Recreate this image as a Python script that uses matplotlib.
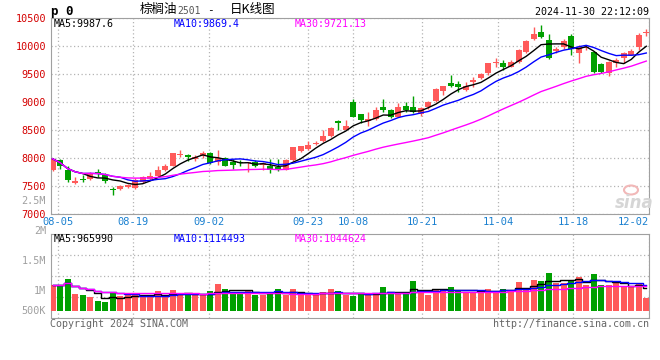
import numpy as np
import pandas as pd
import matplotlib
matplotlib.use('Agg')
import matplotlib.pyplot as plt

# 棕榈油2501 日K数据 (08-02 起, 共80根)
opens = [7778, 7956, 7778, 7546, 7630, 7625, 7755, 7696, 7446, 7452,
         7482, 7464, 7571, 7625, 7671, 7790, 7862, 8052, 8058, 7986,
         8027, 8095, 7921, 8000, 7928, 7928, 7912, 7921, 7880, 7862,
         7838, 7790, 7956, 8117, 8165, 8241, 8295, 8384, 8651, 8503,
         9007, 8783, 8664, 8699, 8901, 8860, 8740, 8936, 8901, 8790,
         8901, 9025, 9200, 9346, 9318, 9216, 9364, 9424, 9513, 9691,
         9703, 9631, 9720, 9898, 10125, 10255, 10107, 9911, 9977, 10184,
         9870, 9959, 9898, 9673, 9513, 9691, 9781, 9840, 9977, 10226]
highs = [7999, 7981, 7862, 7660, 7689, 7749, 7803, 7732, 7475, 7523,
         7540, 7642, 7670, 7742, 7850, 7897, 8095, 8135, 8075, 8058,
         8117, 8100, 8147, 8017, 7986, 7969, 7930, 7969, 7921, 7981,
         7981, 7975, 8200, 8220, 8307, 8300, 8503, 8560, 8681, 8669,
         9050, 8788, 8829, 8908, 9055, 8880, 8990, 9007, 9112, 8901,
         9015, 9246, 9293, 9483, 9382, 9364, 9442, 9510, 9703, 9781,
         9750, 9740, 9941, 10107, 10340, 10370, 10214, 9977, 10119, 10209,
         10018, 10018, 9917, 9690, 9738, 9781, 9887, 9950, 10237, 10310]
lows = [7760, 7800, 7575, 7535, 7564, 7600, 7660, 7553, 7340, 7434,
        7470, 7446, 7550, 7612, 7660, 7760, 7855, 8017, 7938, 7938,
        8000, 7890, 7880, 7850, 7803, 7850, 7750, 7840, 7778, 7732,
        7770, 7780, 7945, 8100, 8147, 8230, 8277, 8375, 8491, 8491,
        8729, 8622, 8562, 8681, 8818, 8710, 8729, 8829, 8800, 8753,
        8880, 9007, 9127, 9264, 9186, 9198, 9275, 9410, 9483, 9620,
        9572, 9620, 9703, 9881, 10107, 10140, 9763, 9870, 9941, 9840,
        9703, 9930, 9513, 9520, 9465, 9631, 9691, 9830, 9929, 10178]
closes = [7986, 7849, 7600, 7582, 7600, 7732, 7707, 7582, 7421, 7505,
          7523, 7600, 7653, 7671, 7790, 7850, 8088, 8075, 8010, 8017,
          8088, 7905, 8000, 7862, 7880, 7912, 7925, 7862, 7910, 7778,
          7778, 7969, 8188, 8206, 8236, 8270, 8396, 8533, 8622, 8574,
          8740, 8681, 8699, 8860, 8854, 8723, 8918, 8860, 8818, 8885,
          9007, 9234, 9287, 9293, 9275, 9287, 9394, 9496, 9691, 9703,
          9620, 9720, 9929, 10089, 10214, 10155, 9781, 9941, 10089, 9941,
          9988, 9977, 9542, 9542, 9715, 9750, 9870, 9917, 10196, 10237]
volumes = [1090000, 1090000, 1340000, 710000, 660000, 600000, 430000, 380000, 740000, 620000,
           660000, 740000, 660000, 570000, 830000, 600000, 880000, 660000, 710000, 660000,
           660000, 850000, 1130000, 920000, 740000, 740000, 850000, 660000, 660000, 800000,
           920000, 660000, 920000, 660000, 660000, 660000, 790000, 910000, 830000, 660000,
           630000, 690000, 740000, 740000, 990000, 740000, 740000, 790000, 1260000, 880000,
           660000, 910000, 880000, 990000, 880000, 800000, 800000, 800000, 910000, 850000,
           920000, 880000, 1230000, 970000, 1300000, 1260000, 1610000, 1160000, 1190000, 1300000,
           1420000, 1090000, 1560000, 1090000, 1090000, 1160000, 990000, 990000, 1160000, 550000]

date_labels = ['08-05', '08-19', '09-02', '09-23', '10-08', '10-21', '11-04', '11-18', '12-02']
date_pos = [0.7, 10.75, 20.85, 34.0, 40.0, 49.2, 59.3, 69.3, 79.4]
price_ticks = [7000, 7500, 8000, 8500, 9000, 9500, 10000, 10500]
vol_labels = ['2.5M', '2M', '1.5M', '1M', '500K']

RED = '#ff5a5a'
GREEN = '#00a000'
GRID = '#b4b4b4'
SPINE = '#a0a0a0'
MONO = 'DejaVu Sans Mono'
CJK = ['Noto Sans CJK SC', 'DejaVu Sans']

W, H = 660, 360


def fx(px):
    return px / W


def fy(py):
    return 1 - py / H


fig = plt.figure(figsize=(6.6, 3.6), dpi=100)
ax = fig.add_axes([fx(50.7), fy(214), (649.3 - 50.7) / W, (214 - 17.9) / H])
vax = fig.add_axes([fx(50.7), fy(318.3), (649.3 - 50.7) / W, (318.3 - 234.3) / H])

x = np.arange(len(closes))
o = np.array(opens)
c = np.array(closes)
col = np.where(c >= o, RED, GREEN)

# K线
ax.vlines(x, lows, highs, colors=col, lw=1, zorder=3)
body = np.maximum(np.abs(c - o), 18)
bottom = np.minimum(o, c) - (body - np.abs(c - o)) / 2
ax.bar(x, body, bottom=bottom, width=0.8, color=col, lw=0, zorder=4)

# 均线
s = pd.Series(closes)
for n, color in [(5, 'black'), (10, '#0000ff'), (30, '#ff00ff')]:
    ax.plot(x, s.rolling(n, min_periods=1).mean(), color=color, lw=1.0, zorder=5)

# 成交量
vax.bar(x, volumes, width=0.8, color=col, lw=0, zorder=3)
v = pd.Series(volumes)
for n, color in [(5, 'black'), (10, '#0000ff'), (30, '#ff00ff')]:
    vax.plot(x, v.rolling(n, min_periods=1).mean(), color=color, lw=1.0,
             drawstyle='steps-mid', zorder=4)

for a in (ax, vax):
    a.set_xlim(-0.24, 79.4)
    a.set_xticks(date_pos)
    a.grid(True, axis='x', color=GRID, linestyle=(0, (1, 2)), lw=0.9)
    for sp in a.spines.values():
        sp.set_color(SPINE)
    a.tick_params(length=0)

ax.set_ylim(7000, 10500)
ax.set_yticks(price_ticks)
ax.grid(True, axis='y', color=GRID, linestyle=(0, (1, 2)), lw=0.9)
ax.set_yticklabels([str(t) for t in price_ticks], color='#d40000', fontsize=7.3, fontfamily=MONO)
ax.tick_params(axis='y', pad=3.4)
ax.set_xticklabels(date_labels, color='#1a80d0', fontsize=7.5, fontfamily=MONO)
ax.tick_params(axis='x', pad=2)
ax.get_xticklabels()[-1].set_ha('right')

vlo, vhi = -322000, 3237000
vax.set_ylim(vlo, vhi)
vax.set_yticks([])
vax.set_xticklabels([])
for f in (0.25, 0.5, 0.75):
    vax.axhline(vlo + f * (vhi - vlo), color=GRID, linestyle=(0, (1, 2)), lw=0.9, zorder=1)

# 标题与文字
fig.text(fx(51), fy(11), 'p 0', fontfamily=MONO, fontweight='bold', fontsize=9, va='center')
fig.text(fx(140), fy(10), '棕榈油', fontfamily=CJK, fontsize=9, va='center')
fig.text(fx(177), fy(10.5), '2501', fontfamily=MONO, fontsize=7, color='#555555', va='center')
fig.text(fx(210), fy(10), '-', fontfamily=MONO, fontsize=8, va='center', ha='center')
fig.text(fx(230), fy(10), '日K线图', fontfamily=CJK, fontsize=9, va='center')
fig.text(fx(649), fy(12), '2024-11-30 22:12:09', fontfamily=MONO, fontsize=7.2, ha='right', va='center')

fig.text(fx(54), fy(24), 'MA5:9987.6', fontfamily=MONO, fontsize=7.2, color='black', va='center')
fig.text(fx(174), fy(24), 'MA10:9869.4', fontfamily=MONO, fontsize=7.2, color='#0000ff', va='center')
fig.text(fx(295), fy(24), 'MA30:9721.13', fontfamily=MONO, fontsize=7.2, color='#ff00ff', va='center')

fig.text(fx(54), fy(238.5), 'MA5:965990', fontfamily=MONO, fontsize=7.2, color='black', va='center')
fig.text(fx(174), fy(238.5), 'MA10:1114493', fontfamily=MONO, fontsize=7.2, color='#0000ff', va='center')
fig.text(fx(295), fy(238.5), 'MA30:1044624', fontfamily=MONO, fontsize=7.2, color='#ff00ff', va='center')

for lab, py in zip(vol_labels, [200.7, 230.7, 261, 290.7, 310.7]):
    fig.text(fx(46), fy(py), lab, fontfamily=MONO, fontsize=7.3, color='#a0a0a0', ha='right', va='center')

fig.text(fx(50), fy(324), 'Copyright 2024 SINA.COM', fontfamily=MONO, fontsize=7.2, color='#666666', va='center')
fig.text(fx(649), fy(324), 'http://finance.sina.com.cn', fontfamily=MONO, fontsize=7.2, color='#666666',
         ha='right', va='center')

# 水印 (logo 用椭圆, 文字放下面)
logo = matplotlib.patches.Ellipse((fx(631), fy(190)), 14 / W, 9 / H, transform=fig.transFigure,
                                  facecolor='none', edgecolor='#f2b8b8', lw=1.5)
fig.patches.append(logo)
fig.text(fx(634), fy(203), 'sina', fontsize=12, fontweight='bold', fontstyle='italic',
         color='#d6d6d6', ha='center', va='center')

fig.savefig('out.png', dpi=100)
